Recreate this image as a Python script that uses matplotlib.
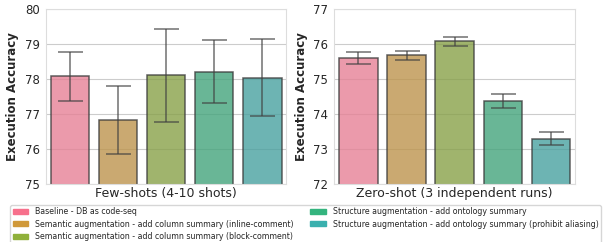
import matplotlib
matplotlib.use("Agg")
import matplotlib.pyplot as plt
import seaborn as sns
import numpy as np

methods = [
    "Baseline - DB as code-seq",
    "Semantic augmentation - add column summary (inline-comment)",
    "Semantic augmentation - add column summary (block-comment)",
    "Structure augmentation - add ontology summary",
    "Structure augmentation - add ontology summary (prohibit aliasing)",
]
few_mean = [78.07, 76.82, 78.11, 78.21, 78.04]
few_err = [0.69, 0.97, 1.33, 0.91, 1.09]
zero_mean = [75.61, 75.67, 76.07, 74.37, 73.29]
zero_err = [0.17, 0.12, 0.12, 0.20, 0.18]

sns.set_style("whitegrid")
plt.rcParams['font.family'] = ['DejaVu Sans']
palette = ["#f7708c", "#d0993a", "#8fb03a", "#34b47e", "#3ab0ae"]
bar_colors = [sns.desaturate(c, 0.75) for c in palette]

fig, axes = plt.subplots(1, 2, figsize=(6.11, 2.42), dpi=100)
panels = [
    (axes[0], few_mean, few_err, (75, 80), "Few-shots (4-10 shots)"),
    (axes[1], zero_mean, zero_err, (72, 77), "Zero-shot (3 independent runs)"),
]
x = np.arange(len(methods))
for ax, mean, err, ylim, xlabel in panels:
    ax.bar(x, mean, width=0.8, color=bar_colors, alpha=0.8,
           edgecolor="#3a3a3a", linewidth=1.1)
    ax.errorbar(x, mean, yerr=err, fmt="none", ecolor="#404040",
                elinewidth=1.1, capsize=9, capthick=1.1, alpha=0.75)
    ax.set_ylim(*ylim)
    ax.set_xlim(-0.5, len(methods) - 0.5)
    ax.set_xticks([])
    ax.set_xlabel(xlabel, fontsize=9, labelpad=2)
    ax.set_ylabel("Execution Accuracy", fontsize=8.5, fontweight="bold")
    ax.tick_params(axis="y", labelsize=8.5, pad=1)
    ax.grid(axis="x", visible=False)
    for s in ax.spines.values():
        s.set_color("#dddddd")

handles = [plt.Rectangle((0, 0), 1, 1, color=c) for c in palette]
fig.legend(handles, methods, loc="lower center", ncol=2, fontsize=5.7,
           bbox_to_anchor=(0.5, -0.012), handlelength=2.0, handleheight=0.55,
           handletextpad=0.9, columnspacing=2.0, frameon=True,
           borderpad=0.3, labelspacing=0.42, borderaxespad=0.2)

fig.subplots_adjust(left=0.075, right=0.941, top=0.963, bottom=0.24, wspace=0.2)
fig.savefig("out.png", dpi=100)
